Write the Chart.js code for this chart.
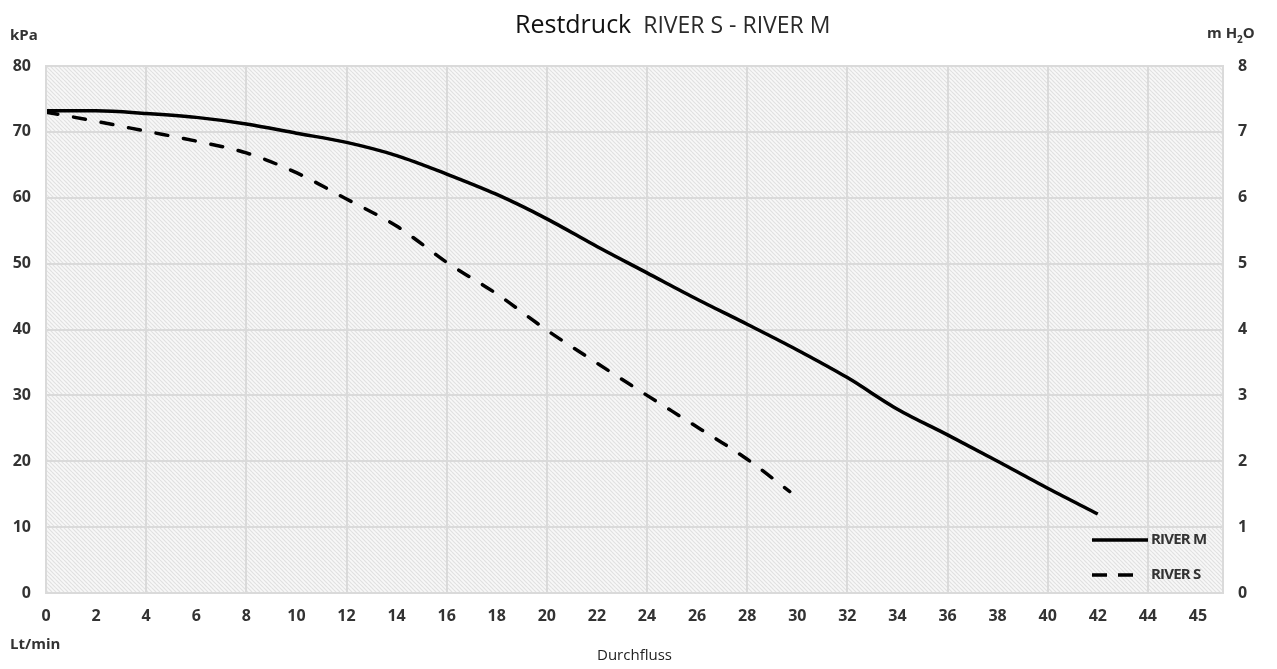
<!DOCTYPE html>
<html>
<head>
<meta charset="utf-8">
<script src="https://cdn.jsdelivr.net/npm/chart.js@4.4.1/dist/chart.umd.min.js"></script>
<style>
  html, body { margin: 0; padding: 0; background: #fff; }
  #wrap { width: 1277px; height: 669px; }
</style>
</head>
<body>
<div id="wrap"><canvas id="myChart" width="1277" height="669"></canvas></div>
<script>
// flow (Lt/min) and residual pressure (kPa)
var flowM = [0, 2, 4, 6, 8, 10, 12, 14, 16, 18, 20, 22, 24, 26, 28, 30, 32, 34, 36, 38, 40, 42];
var riverM = [73.2, 73.2, 72.8, 72.2, 71.2, 69.8, 68.4, 66.4, 63.6, 60.5, 56.8, 52.6, 48.6, 44.6, 40.8, 36.9, 32.7, 27.9, 24.0, 20.0, 15.9, 12.0];

var flowS = [0, 2, 4, 6, 8, 10, 12, 14, 16, 18, 20, 22, 24, 26, 28, 29.7];
var riverS = [73.0, 71.6, 70.1, 68.6, 66.8, 63.8, 59.8, 55.7, 50.2, 45.4, 39.9, 34.9, 30.0, 25.2, 20.3, 15.4];

// x tick labels (last one sits where 46 would be, as in the original)
var xTickPos = [0, 2, 4, 6, 8, 10, 12, 14, 16, 18, 20, 22, 24, 26, 28, 30, 32, 34, 36, 38, 40, 42, 44, 46];
var xTickLabels = ['0', '2', '4', '6', '8', '10', '12', '14', '16', '18', '20', '22', '24', '26', '28', '30', '32', '34', '36', '38', '40', '42', '44', '45'];

var gridColor = '#dadada';
var tickFont = { family: 'Open Sans', size: 16, weight: 'bold' };

function toPoints(xs, ys) {
  return xs.map(function (x, i) { return { x: x, y: ys[i] }; });
}

// hatched plot background
var hatch = (function () {
  var c = document.createElement('canvas');
  c.width = 8; c.height = 8;
  var g = c.getContext('2d');
  g.fillStyle = '#f8f8f8';
  g.fillRect(0, 0, 8, 8);
  g.strokeStyle = '#e1e1e1';
  g.lineWidth = 1.2;
  for (var o = -8; o <= 8; o += 4) {
    g.beginPath();
    g.moveTo(o, 0);
    g.lineTo(o + 8, 8);
    g.stroke();
  }
  return g.createPattern(c, 'repeat');
})();

var decor = {
  id: 'decor',
  beforeDraw: function (chart) {
    var a = chart.chartArea, ctx = chart.ctx;
    ctx.save();
    ctx.fillStyle = hatch;
    ctx.fillRect(a.left, a.top, a.right - a.left, a.bottom - a.top);
    ctx.restore();
  },
  afterDraw: function (chart) {
    var a = chart.chartArea, ctx = chart.ctx;
    ctx.save();
    // frame
    ctx.strokeStyle = gridColor;
    ctx.lineWidth = 2;
    ctx.strokeRect(a.left, a.top, a.right - a.left, a.bottom - a.top);

    // title
    ctx.textBaseline = 'alphabetic';
    ctx.textAlign = 'left';
    ctx.fillStyle = '#111';
    ctx.font = '25px "Open Sans"';
    var t1 = 'Restdruck';
    ctx.fillText(t1, 515, 33);
    var w1 = ctx.measureText(t1).width;
    ctx.fillStyle = '#2a2a2a';
    ctx.font = '23px "Open Sans"';
    ctx.fillText('RIVER S - RIVER M', 515 + w1 + 12, 33);

    // unit labels
    ctx.fillStyle = '#333';
    ctx.font = 'bold 15px "Open Sans"';
    ctx.textBaseline = 'middle';
    ctx.fillText('kPa', 10, 36);
    ctx.fillText('Lt/min', 10, 645);
    var ux = 1207;
    ctx.fillText('m H', ux, 34);
    var wm = ctx.measureText('m H').width;
    ctx.font = 'bold 10px "Open Sans"';
    ctx.fillText('2', ux + wm, 40);
    var w2 = ctx.measureText('2').width;
    ctx.font = 'bold 15px "Open Sans"';
    ctx.fillText('O', ux + wm + w2, 34);

    // legend inside the plot, bottom right
    var ds = chart.data.datasets;
    var lx = a.right - 131, ly = a.bottom - 53;
    ds.forEach(function (d, i) {
      var y = ly + i * 35;
      ctx.strokeStyle = d.borderColor;
      ctx.lineWidth = d.borderWidth;
      ctx.lineCap = 'butt';
      ctx.beginPath();
      if (d.borderDash) {
        ctx.setLineDash([15, 11]);
        ctx.moveTo(lx, y);
        ctx.lineTo(lx + 41, y);
      } else {
        ctx.moveTo(lx, y);
        ctx.lineTo(lx + 56, y);
      }
      ctx.stroke();
      ctx.setLineDash([]);
      ctx.fillStyle = '#333';
      ctx.font = 'bold 15px "Open Sans"';
      ctx.letterSpacing = '-0.8px';
      ctx.fillText(d.label, lx + 59, y);
      ctx.letterSpacing = '0px';
    });
    ctx.restore();
  }
};

var ctx = document.getElementById('myChart').getContext('2d');

var chart = new Chart(ctx, {
  type: 'line',
  data: {
    datasets: [{
      label: 'RIVER M',
      data: toPoints(flowM, riverM),
      borderColor: '#000',
      borderWidth: 3.5,
      pointRadius: 0,
      cubicInterpolationMode: 'monotone',
      fill: false
    }, {
      label: 'RIVER S',
      data: toPoints(flowS, riverS),
      borderColor: '#000',
      borderWidth: 3.5,
      borderDash: [12, 16],
      borderCapStyle: 'round',
      pointRadius: 0,
      cubicInterpolationMode: 'monotone',
      fill: false
    }]
  },
  options: {
    responsive: false,
    animation: false,
    layout: { padding: { top: 66, left: 0, right: 0, bottom: 0 } },
    plugins: {
      legend: { display: false },
      title: { display: false },
      tooltip: { enabled: false }
    },
    scales: {
      x: {
        type: 'linear',
        min: 0,
        max: 47,
        afterBuildTicks: function (scale) {
          scale.ticks = xTickPos.map(function (v) { return { value: v }; });
        },
        afterFit: function (scale) { scale.height = 76; },
        border: { display: false },
        grid: {
          drawTicks: false,
          lineWidth: 2,
          color: function (c) {
            return (c.tick && c.tick.value % 4 === 0) ? gridColor : 'rgba(0,0,0,0)';
          }
        },
        ticks: {
          padding: 14,
          color: '#333',
          font: tickFont,
          autoSkip: false,
          maxRotation: 0,
          callback: function (v, i) { return xTickLabels[i]; }
        },
        title: {
          display: true,
          text: 'Durchfluss',
          color: '#222',
          font: { family: 'Open Sans', size: 15 },
          padding: { top: 0, bottom: 4 }
        }
      },
      y: {
        position: 'left',
        min: 0,
        max: 80,
        afterFit: function (scale) { scale.width = 46; },
        border: { display: false },
        grid: { drawTicks: false, lineWidth: 2, color: gridColor },
        ticks: { stepSize: 10, padding: 15, color: '#333', font: tickFont }
      },
      y2: {
        position: 'right',
        min: 0,
        max: 8,
        afterFit: function (scale) { scale.width = 54; },
        border: { display: false },
        grid: { display: false, drawTicks: false },
        ticks: { stepSize: 1, padding: 15, color: '#333', font: tickFont }
      }
    }
  },
  plugins: [decor]
});
</script>
</body>
</html>
